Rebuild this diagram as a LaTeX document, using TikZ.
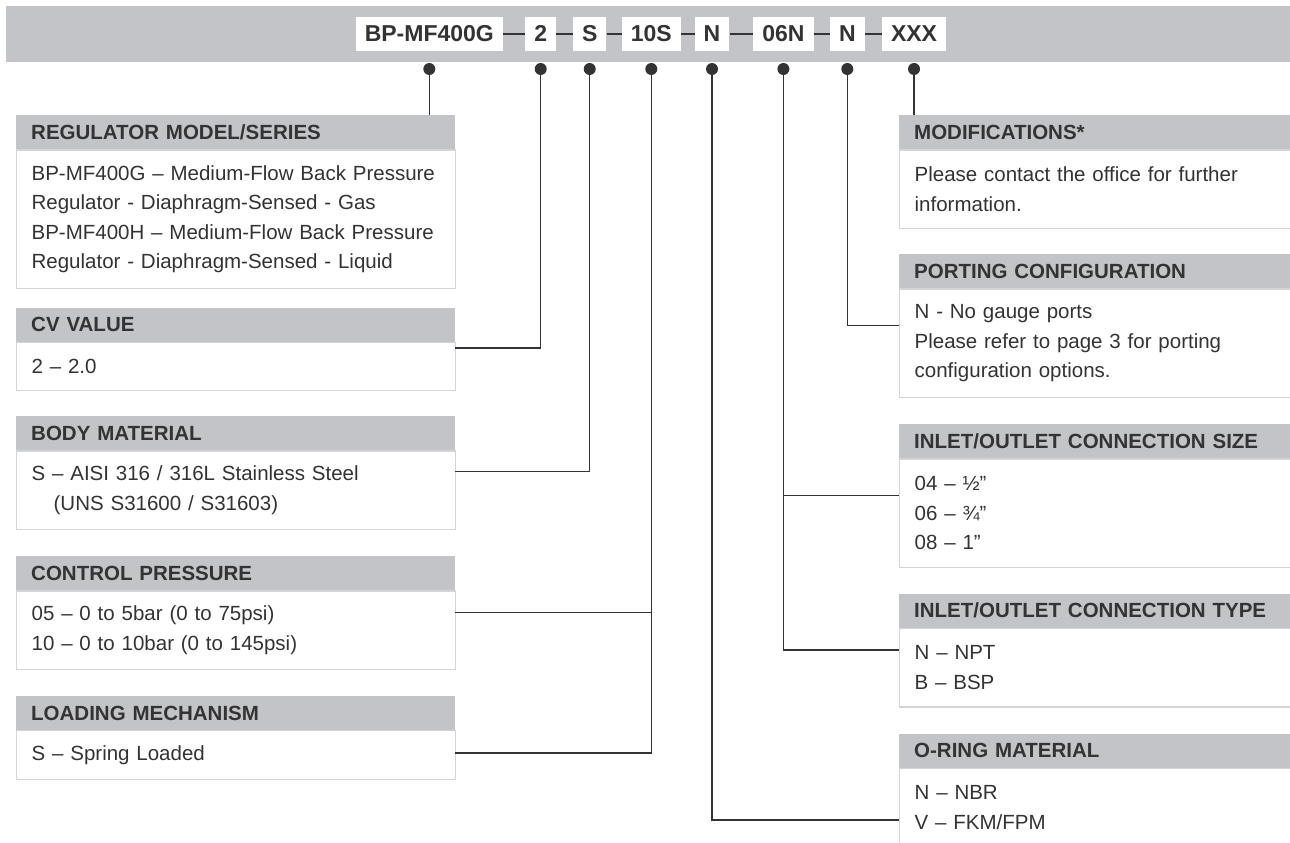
\documentclass[tikz,border=0pt]{standalone}
\usepackage{fontspec}
\setmainfont{Liberation Sans}
\definecolor{bargray}{HTML}{C3C4C8}
\definecolor{ink}{HTML}{333333}
\definecolor{rulegray}{HTML}{D3D4D6}
\newcommand{\bodyfont}{\fontsize{20.5}{29.5}\selectfont}
\tikzset{
  codebox/.style={fill=white, text=ink, font=\bfseries\fontsize{23}{23}\selectfont,
    inner xsep=9pt, inner ysep=0pt, minimum height=34pt, text height=16.5pt, text depth=0pt},
  codedash/.style={draw=ink, line width=2.2pt},
  codedot/.style={circle, fill=ink, inner sep=0pt, minimum size=12pt},
  wire/.style={draw=ink, line width=1.3pt},
  hdr/.style={fill=bargray, text=ink, font=\bfseries\fontsize{20.5}{24}\selectfont, anchor=north west,
    inner xsep=15pt, inner ysep=0pt, minimum height=34pt, text height=14.7pt, text depth=0pt, align=left},
  infobox/.style={draw=rulegray, line width=1.3pt, fill=white, text=ink, font=\bodyfont, anchor=north west,
    inner xsep=15pt, inner ysep=0pt, minimum height=#1, align=left},
  leftcol/.style={text width=409pt},
  rightcol/.style={text width=371pt}
}

\begin{document}
\begin{tikzpicture}[x=1pt,y=-1pt]
  \useasboundingbox (0,0) rectangle (1290,843);
  \clip (0,0) rectangle (1290,843);
  % ordering code bar
  \fill[bargray] (6,6) rectangle (1300,61.7);
  \foreach \n/\x/\code in {1/429.3/BP-MF400G,2/540.7/2,3/589.7/S,4/651.3/10S,5/712/N,6/783.4/06N,7/847.3/N,8/914/XXX}{
    \node[codebox] (c\n) at (\x,33.7) {\code};
    \node[codedot] (d\n) at (\x,69) {};
  }
  \foreach \a/\b in {1/2,2/3,3/4,4/5,5/6,6/7,7/8}
    \draw[codedash] (c\a) -- (c\b);

  % left column
  \node[hdr, leftcol] (hreg) at (16,115) {REGULATOR MODEL/SERIES};
  \node[infobox=138.7pt, leftcol] (breg) at (hreg.south west) {BP-MF400G – Medium-Flow Back Pressure\\Regulator - Diaphragm-Sensed - Gas\\BP-MF400H – Medium-Flow Back Pressure\\Regulator - Diaphragm-Sensed - Liquid};
  \node[hdr, leftcol] (hcv) at (16,307.3) {CV VALUE};
  \node[infobox=48.3pt, leftcol] (bcv) at (hcv.south west) {2 – 2.0};
  \node[hdr, leftcol] (hbody) at (16,416) {BODY MATERIAL};
  \node[infobox=78.5pt, leftcol] (bbody) at (hbody.south west) {S – AISI 316 / 316L Stainless Steel\\\hspace*{22pt}(UNS S31600 / S31603)};
  \node[hdr, leftcol] (hctrl) at (16,556) {CONTROL PRESSURE};
  \node[infobox=78.5pt, leftcol] (bctrl) at (hctrl.south west) {05 – 0 to 5bar (0 to 75psi)\\10 – 0 to 10bar (0 to 145psi)};
  \node[hdr, leftcol] (hload) at (16,695.7) {LOADING MECHANISM};
  \node[infobox=48.5pt, leftcol] (bload) at (hload.south west) {S – Spring Loaded};

  % right column
  \node[hdr, rightcol] (hmod) at (899,115) {MODIFICATIONS*};
  \node[infobox=78.5pt, rightcol] (bmod) at (hmod.south west) {Please contact the office for further\\information.};
  \node[hdr, rightcol] (hport) at (899,254) {PORTING CONFIGURATION};
  \node[infobox=108.7pt, rightcol] (bport) at (hport.south west) {N - No gauge ports\\Please refer to page 3 for porting\\configuration options.};
  \node[hdr, rightcol] (hsize) at (899,424) {INLET/OUTLET CONNECTION SIZE};
  \node[infobox=108.7pt, rightcol] (bsize) at (hsize.south west) {04 – ½”\\06 – ¾”\\08 – 1”};
  \node[hdr, rightcol] (htype) at (899,593.3) {INLET/OUTLET CONNECTION TYPE};
  \node[infobox=78.5pt, rightcol] (btype) at (htype.south west) {N – NPT\\B – BSP};
  \node[hdr, rightcol] (horing) at (899,733.3) {O-RING MATERIAL};
  \node[infobox=78.5pt, rightcol] (boring) at (horing.south west) {N – NBR\\V – FKM/FPM};

  % leader lines
  \coordinate (jcv) at (455,348);
  \coordinate (jbody) at (455,471.7);
  \coordinate (jctrl) at (455,612.3);
  \coordinate (jload) at (455,753);
  \coordinate (jport) at (899,325.7);
  \coordinate (jsize) at (899,495.7);
  \coordinate (jtype) at (899,650);
  \coordinate (joring) at (899,820);
  \draw[wire] (d1) -- (hreg.north -| d1);
  \draw[wire] (d2) |- (jcv);
  \draw[wire] (d3) |- (jbody);
  \draw[wire] (d4) |- (jload);
  \draw[wire] (d4 |- jctrl) -- (jctrl);
  \draw[wire] (d5) |- (joring);
  \draw[wire] (d6) |- (jtype);
  \draw[wire] (d6 |- jsize) -- (jsize);
  \draw[wire] (d7) |- (jport);
  \draw[wire] (d8) -- (hmod.north -| d8);
\end{tikzpicture}
\end{document}
